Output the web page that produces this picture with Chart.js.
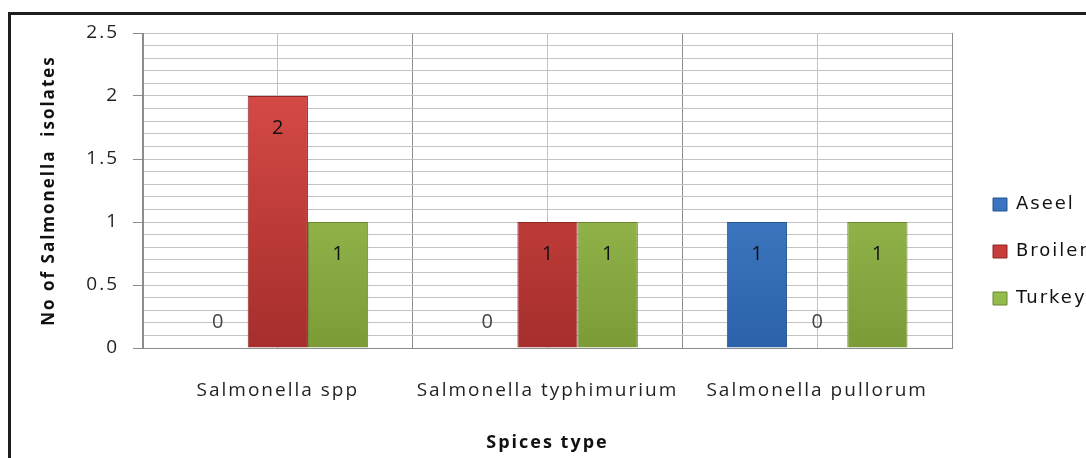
<!DOCTYPE html>
<html>
<head>
<meta charset="utf-8">
<script src="https://cdn.jsdelivr.net/npm/chart.js@4"></script>
<style>
  html, body { margin: 0; padding: 0; background: #fff; overflow: hidden; }
  #frame {
    position: absolute; left: 8px; top: 12px;
    width: 1200px; height: 600px;
    border: 3px solid #1e1e1e; box-sizing: border-box;
  }
  #chart { position: absolute; left: 0; top: 0; }
</style>
</head>
<body>
<div id="frame"></div>
<canvas id="chart" width="1150" height="470"></canvas>
<script>
const categories = ["Salmonella spp", "Salmonella typhimurium", "Salmonella pullorum"];
const seriesNames = ["Aseel", "Broiler", "Turkey"];
const aseel = [0, 0, 1];
const broiler = [2, 1, 0];
const turkey = [1, 1, 1];

const yMax = 2.5;
const yStep = 0.1;

/* ================= STYLE ================= */

const AREA = { left: 143, top: 33, right: 952, bottom: 348 };
const SPACING = "2px";
const FONT = "'Open Sans', 'DejaVu Sans', sans-serif";

const colors = {
  Aseel:   { top: "#5393de", bottom: "#2b62aa", edge: "#26548f", flat: "#3a74c0" },
  Broiler: { top: "#e0504b", bottom: "#a52e2c", edge: "#8e2725", flat: "#c83c39" },
  Turkey:  { top: "#aed463", bottom: "#7b9b37", edge: "#6b8630", flat: "#94bb4c" }
};

function barFill(name) {
  return (ctx) => {
    const area = ctx.chart.chartArea;
    if (!area) return colors[name].flat;
    const g = ctx.chart.ctx.createLinearGradient(0, area.top, 0, area.bottom);
    g.addColorStop(0, colors[name].top);
    g.addColorStop(1, colors[name].bottom);
    return g;
  };
}

function isMajor(v) {
  return Math.abs(v * 2 - Math.round(v * 2)) < 1e-6;
}

// letter spacing for all canvas text (the reference text is spread out)
const spacingPlugin = {
  id: "spacing",
  beforeLayout(chart) { chart.ctx.letterSpacing = SPACING; },
  beforeDraw(chart) { chart.ctx.letterSpacing = SPACING; }
};

// value labels inside the bars (0 sits just above the axis)
const valueLabels = {
  id: "valueLabels",
  afterDatasetsDraw(chart) {
    const ctx = chart.ctx;
    ctx.save();
    ctx.font = "20px " + FONT;
    ctx.textAlign = "center";
    ctx.textBaseline = "middle";
    chart.data.datasets.forEach((ds, i) => {
      chart.getDatasetMeta(i).data.forEach((bar, j) => {
        const v = ds.data[j];
        ctx.fillStyle = v ? "#111" : "#444";
        const y = v ? bar.y + 32 : bar.base - 26;
        ctx.fillText(String(v), bar.x + 1, y);
      });
    });
    ctx.restore();
  }
};

const datasets = [aseel, broiler, turkey].map((values, i) => {
  const name = seriesNames[i];
  return {
    label: name,
    data: values,
    backgroundColor: barFill(name),
    borderColor: colors[name].edge,
    borderWidth: (ctx) => (ctx.raw ? 1 : 0),
    categoryPercentage: 0.67,
    barPercentage: 1
  };
});

const chart = new Chart(document.getElementById("chart"), {
  type: "bar",
  data: { labels: categories, datasets: datasets },
  options: {
    responsive: false,
    animation: false,
    devicePixelRatio: 1,
    layout: { padding: { top: AREA.top, left: 0, right: 60, bottom: 0 } },
    plugins: {
      tooltip: { enabled: false },
      legend: {
        position: "right",
        labels: {
          boxWidth: 14,
          boxHeight: 13,
          padding: 29,
          color: "#111",
          font: { family: "'DejaVu Sans', sans-serif", size: 18 },
          generateLabels(c) {
            const items = Chart.defaults.plugins.legend.labels.generateLabels(c);
            items.forEach(it => {
              it.fillStyle = colors[it.text].flat;
              it.strokeStyle = colors[it.text].edge;
              it.lineWidth = 1;
            });
            return items;
          }
        }
      }
    },
    scales: {
      x: {
        offset: true,
        grid: { offset: true, color: "#8c8c8c", drawTicks: false },
        border: { color: "#8c8c8c" },
        ticks: { color: "#1f1f1f", font: { family: FONT, size: 19 }, padding: 31, maxRotation: 0 },
        title: {
          display: true,
          text: "Spices type",
          color: "#111",
          font: { family: FONT, size: 18, weight: "bold" },
          padding: { top: 0, bottom: 16 }
        },
        afterFit(scale) { scale.height = 470 - AREA.bottom; }
      },
      xMid: {
        type: "category",
        position: "bottom",
        offset: true,
        grid: { offset: false, color: "#c3c3c3", drawTicks: false },
        border: { display: false },
        ticks: { display: false },
        afterFit(scale) { scale.height = 0; }
      },
      y: {
        min: 0,
        max: yMax,
        grid: {
          color: "#c3c3c3",
          tickLength: 10,
          tickColor: (ctx) => (isMajor(ctx.tick.value) ? "#8c8c8c" : "rgba(0,0,0,0)")
        },
        border: { color: "#8c8c8c" },
        ticks: {
          stepSize: yStep,
          autoSkip: false,
          padding: 14,
          color: "#1f1f1f",
          font: { family: FONT, size: 19 },
          callback: (v) => (isMajor(v) ? String(Math.round(v * 10) / 10) : "")
        },
        title: {
          display: true,
          text: "No of Salmonella  isolates",
          color: "#111",
          font: { family: FONT, size: 17, weight: "bold" },
          padding: { top: 39, bottom: 0 }
        },
        afterFit(scale) { scale.width = AREA.left; }
      },
      // empty gap between the plot and the legend
      gap: {
        type: "linear",
        position: "right",
        grid: { display: false },
        border: { display: false },
        ticks: { display: false },
        afterFit(scale) { scale.width = 12; }
      }
    }
  },
  plugins: [spacingPlugin, valueLabels]
});

// pin the plot's right edge where the reference has it
const diff = AREA.right - chart.chartArea.right;
if (Math.abs(diff) > 0.5) {
  chart.options.layout.padding.right -= diff;
  chart.update();
}
</script>
</body>
</html>
